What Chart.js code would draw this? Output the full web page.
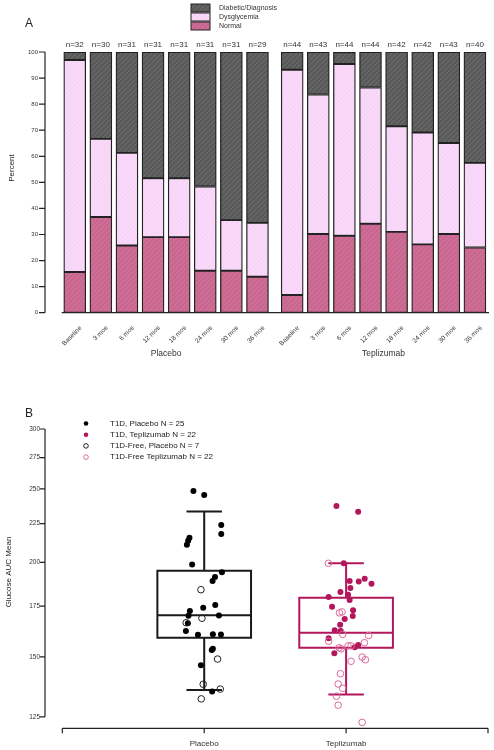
<!DOCTYPE html>
<html>
<head>
<meta charset="utf-8">
<script src="https://cdn.jsdelivr.net/npm/chart.js@4"></script>
<style>
  body { margin: 0; background: #fff; }
  canvas { display: block; }
</style>
</head>
<body>
<canvas id="chartA" width="494" height="370"></canvas>
<canvas id="chartB" width="494" height="380"></canvas>
<script>
// PANEL A DATA
const timeLabels = ["Baseline", "3 mos", "6 mos", "12 mos", "18 mos", "24 mos", "30 mos", "36 mos"];
const groupNames = ["Placebo", "Teplizumab"];
const barPos = [1, 2, 3, 4, 5, 6, 7, 8, 9.33, 10.33, 11.33, 12.33, 13.33, 14.33, 15.33, 16.33];
const nCounts = [32, 30, 31, 31, 31, 31, 31, 29, 44, 43, 44, 44, 42, 42, 43, 40];
const normalPct = [15.6, 36.7, 25.8, 29.0, 29.0, 16.1, 16.1, 13.8, 6.8, 30.2, 29.5, 34.1, 31.0, 26.2, 30.2, 25.0];
const dysPct = [81.3, 30.0, 35.5, 22.6, 22.6, 32.3, 19.4, 20.7, 86.4, 53.5, 65.9, 52.3, 40.5, 42.9, 34.9, 32.5];
const diabPct = [3.1, 33.3, 38.7, 48.4, 48.4, 51.6, 64.5, 65.5, 6.8, 16.3, 4.5, 13.6, 28.6, 31.0, 34.9, 42.5];
const pctTicks = [0, 10, 20, 30, 40, 50, 60, 70, 80, 90, 100];

// PANEL B DATA
const t1dPlacebo = [
  [0.924, 248.5], [1.0, 245.4], [1.12, 224], [1.12, 218], [0.896, 215.5], [0.887, 213.5], [0.878, 211],
  [0.915, 198.7], [1.125, 194], [1.076, 191.2], [1.059, 188.9], [1.078, 175.6], [0.993, 174.2],
  [0.899, 172.4], [0.889, 170], [1.104, 170.1], [0.885, 166.1], [0.871, 162.3], [0.956, 160.4],
  [1.061, 160.7], [1.118, 160.6], [1.061, 153.7], [1.053, 153.2], [0.977, 146.2], [1.056, 135]
];
const freePlacebo = [[0.977, 184], [0.984, 168.7], [0.873, 166.4], [1.094, 149], [0.993, 138], [1.113, 136], [0.979, 132]];
const t1dTepli = [
  [1.932, 237.4], [2.085, 233.3], [1.983, 199.4], [2.089, 188.7], [2.131, 190.3], [2.025, 188.9], [2.179, 187.4],
  [2.03, 184.9], [1.96, 182.7], [2.014, 181.2], [1.877, 179.9], [2.025, 178.3], [1.901, 174.7], [2.049, 172.9],
  [2.047, 169.8], [1.99, 168.3], [1.958, 165.4], [1.92, 162.6], [1.962, 162.3], [1.877, 158.7], [2.085, 155.5],
  [2.061, 154.5], [1.917, 151.6]
];
const freeTepli = [
  [1.875, 199.4], [1.953, 171.5], [1.972, 172], [1.976, 160.6], [2.159, 160.1], [1.877, 157.3], [1.951, 154.2],
  [1.965, 153.7], [2.014, 155.1], [2.035, 155.1], [2.129, 156.6], [2.113, 149.9], [2.136, 148.7], [2.035, 148],
  [1.96, 142.5], [1.944, 138.1], [1.976, 136.3], [1.932, 133.1], [1.944, 129.5], [2.113, 122.9]
];
const boxLow = [135.6, 133.8];
const boxQ1 = [159.0, 154.2];
const boxMed = [170.2, 161.4];
const boxQ3 = [194.9, 179.5];
const boxHigh = [233.5, 199.4];
const glucoseTicks = [125, 150, 175, 200, 225, 250, 275, 300];
const legendB = ["T1D, Placebo N = 25", "T1D, Teplizumab N = 22", "T1D-Free, Placebo N = 7", "T1D-Free Teplizumab N = 22"];

const FONT = '"Liberation Sans", Arial, sans-serif';
const INK = "#222";
const CRIMSON = "#b3175b";
const PINK_OPEN = "#d9699a";

function hatch(base, line) {
  const c = document.createElement("canvas");
  c.width = c.height = 5;
  const g = c.getContext("2d");
  g.fillStyle = base;
  g.fillRect(0, 0, 5, 5);
  g.strokeStyle = line;
  g.lineWidth = 0.6;
  g.beginPath();
  g.moveTo(0, 5); g.lineTo(5, 0);
  g.moveTo(-1, 1); g.lineTo(1, -1);
  g.moveTo(4, 6); g.lineTo(6, 4);
  g.stroke();
  return g.createPattern(c, "repeat");
}

const fillDiab = hatch("#5a5a5a", "rgba(150,150,150,0.6)");
const fillDys = hatch("#f9d8fa", "rgba(235,190,235,0.5)");
const fillNorm = hatch("#c96790", "rgba(230,150,180,0.55)");

function xy(arr) { return arr.map(p => ({ x: p[0], y: p[1] })); }

// PANEL A: axes, labels, legend
const panelA = {
  id: "panelA",
  afterDraw(chart) {
    const { ctx, chartArea, scales } = chart;
    const x = scales.x, y = scales.y;
    ctx.save();
    ctx.strokeStyle = INK;
    ctx.fillStyle = "#333";
    ctx.lineWidth = 1.2;
    // y axis
    ctx.beginPath();
    ctx.moveTo(chartArea.left, y.getPixelForValue(0));
    ctx.lineTo(chartArea.left, y.getPixelForValue(100));
    pctTicks.forEach(t => {
      ctx.moveTo(chartArea.left, y.getPixelForValue(t));
      ctx.lineTo(chartArea.left - 6, y.getPixelForValue(t));
    });
    ctx.stroke();
    ctx.font = "6px " + FONT;
    ctx.textAlign = "right";
    ctx.textBaseline = "middle";
    pctTicks.forEach(t => ctx.fillText(String(t), chartArea.left - 7, y.getPixelForValue(t)));
    // baseline
    ctx.lineWidth = 1.3;
    ctx.beginPath();
    ctx.moveTo(x.getPixelForValue(0.5), y.getPixelForValue(0));
    ctx.lineTo(chartArea.right, y.getPixelForValue(0));
    ctx.stroke();
    // n labels
    ctx.font = "8px " + FONT;
    ctx.textAlign = "center";
    barPos.forEach((v, i) => ctx.fillText("n=" + nCounts[i], x.getPixelForValue(v), 44.5));
    // rotated time labels
    ctx.font = "6.5px " + FONT;
    barPos.forEach((v, i) => {
      ctx.save();
      ctx.translate(x.getPixelForValue(v) + 6, 327);
      ctx.rotate(-Math.PI / 4);
      ctx.textAlign = "right";
      ctx.textBaseline = "middle";
      ctx.fillText(timeLabels[i % 8], 0, 0);
      ctx.restore();
    });
    // group labels
    ctx.font = "8.5px " + FONT;
    ctx.textAlign = "center";
    ctx.fillText(groupNames[0], x.getPixelForValue((barPos[0] + barPos[7]) / 2), 354);
    ctx.fillText(groupNames[1], x.getPixelForValue((barPos[8] + barPos[15]) / 2), 354);
    // legend
    const items = [["Diabetic/Diagnosis", fillDiab], ["Dysglycemia", fillDys], ["Normal", fillNorm]];
    ctx.font = "7px " + FONT;
    ctx.textAlign = "left";
    items.forEach((it, i) => {
      const top = 4 + i * 9;
      ctx.fillStyle = it[1];
      ctx.fillRect(191, top, 19, 8);
      ctx.strokeStyle = INK;
      ctx.lineWidth = 1;
      ctx.strokeRect(191, top, 19, 8);
      ctx.fillStyle = "#333";
      ctx.fillText(it[0], 219, top + 4);
    });
    // panel letter and axis title
    ctx.font = "12px " + FONT;
    ctx.fillStyle = "#222";
    ctx.fillText("A", 25, 24);
    ctx.save();
    ctx.translate(12, 168);
    ctx.rotate(-Math.PI / 2);
    ctx.textAlign = "center";
    ctx.font = "8px " + FONT;
    ctx.fillText("Percent", 0, 0);
    ctx.restore();
    ctx.restore();
  }
};

new Chart(document.getElementById("chartA"), {
  type: "bar",
  data: {
    datasets: [
      { label: "Normal", data: barPos.map((v, i) => ({ x: v, y: normalPct[i] })), backgroundColor: fillNorm },
      { label: "Dysglycemia", data: barPos.map((v, i) => ({ x: v, y: dysPct[i] })), backgroundColor: fillDys },
      { label: "Diabetic/Diagnosis", data: barPos.map((v, i) => ({ x: v, y: diabPct[i] })), backgroundColor: fillDiab }
    ]
  },
  options: {
    responsive: false,
    animation: false,
    devicePixelRatio: 1,
    layout: { padding: { left: 45, right: 5, top: 52, bottom: 57.3 } },
    datasets: { bar: { barThickness: 22, borderWidth: 1.3, borderColor: INK, borderSkipped: false } },
    scales: {
      x: { type: "linear", min: -0.14, max: 16.87, stacked: true, offset: false, display: false },
      y: { min: 0, max: 100, stacked: true, display: false }
    },
    plugins: { legend: { display: false }, tooltip: { enabled: false } }
  },
  plugins: [panelA]
});

// PANEL B: boxes, axes, legend
const panelB = {
  id: "panelB",
  beforeDatasetsDraw(chart) {
    const { ctx, scales } = chart;
    const x = scales.x, y = scales.y;
    ctx.save();
    ctx.lineWidth = 2;
    [1, 2].forEach((c, i) => {
      ctx.strokeStyle = i === 0 ? "#1a1a1a" : CRIMSON;
      const cx = x.getPixelForValue(c);
      const bl = x.getPixelForValue(c - 0.33), br = x.getPixelForValue(c + 0.33);
      const cl = x.getPixelForValue(c - 0.125), cr = x.getPixelForValue(c + 0.125);
      const yLow = y.getPixelForValue(boxLow[i]), yHigh = y.getPixelForValue(boxHigh[i]);
      const yQ1 = y.getPixelForValue(boxQ1[i]), yQ3 = y.getPixelForValue(boxQ3[i]);
      const yMed = y.getPixelForValue(boxMed[i]);
      ctx.beginPath();
      ctx.moveTo(cx, yHigh); ctx.lineTo(cx, yQ3);
      ctx.moveTo(cx, yQ1); ctx.lineTo(cx, yLow);
      ctx.moveTo(cl, yHigh); ctx.lineTo(cr, yHigh);
      ctx.moveTo(cl, yLow); ctx.lineTo(cr, yLow);
      ctx.moveTo(bl, yMed); ctx.lineTo(br, yMed);
      ctx.rect(bl, yQ3, br - bl, yQ1 - yQ3);
      ctx.stroke();
    });
    ctx.restore();
  },
  afterDraw(chart) {
    const { ctx, chartArea, scales } = chart;
    const x = scales.x, y = scales.y;
    ctx.save();
    ctx.strokeStyle = INK;
    ctx.fillStyle = "#333";
    ctx.lineWidth = 1.2;
    // y axis
    ctx.beginPath();
    ctx.moveTo(chartArea.left, y.getPixelForValue(glucoseTicks[0]));
    ctx.lineTo(chartArea.left, y.getPixelForValue(glucoseTicks[glucoseTicks.length - 1]));
    glucoseTicks.forEach(t => {
      ctx.moveTo(chartArea.left, y.getPixelForValue(t));
      ctx.lineTo(chartArea.left - 5, y.getPixelForValue(t));
    });
    // x axis
    const xb = chartArea.bottom;
    ctx.moveTo(x.getPixelForValue(0), xb);
    ctx.lineTo(x.getPixelForValue(3), xb);
    [0, 1, 2, 3].forEach(t => {
      ctx.moveTo(x.getPixelForValue(t), xb);
      ctx.lineTo(x.getPixelForValue(t), xb + 5);
    });
    ctx.stroke();
    ctx.font = "6.5px " + FONT;
    ctx.textAlign = "right";
    ctx.textBaseline = "middle";
    glucoseTicks.forEach(t => ctx.fillText(String(t), chartArea.left - 5, y.getPixelForValue(t)));
    ctx.font = "8px " + FONT;
    ctx.textAlign = "center";
    ctx.fillText(groupNames[0], x.getPixelForValue(1), 374);
    ctx.fillText(groupNames[1], x.getPixelForValue(2), 374);
    // legend
    const styles = [["#000", true], [CRIMSON, true], ["#222", false], [PINK_OPEN, false]];
    ctx.textAlign = "left";
    ctx.font = "8px " + FONT;
    legendB.forEach((txt, i) => {
      const ly = 53.5 + i * 11.2;
      ctx.beginPath();
      ctx.arc(86, ly, 2.3, 0, Math.PI * 2);
      if (styles[i][1]) { ctx.fillStyle = styles[i][0]; ctx.fill(); }
      else { ctx.strokeStyle = styles[i][0]; ctx.lineWidth = 1; ctx.stroke(); }
      ctx.fillStyle = "#222";
      ctx.fillText(txt, 110, ly);
    });
    // panel letter and axis title
    ctx.font = "12px " + FONT;
    ctx.fillText("B", 25, 44);
    ctx.save();
    ctx.translate(9, 202);
    ctx.rotate(-Math.PI / 2);
    ctx.textAlign = "center";
    ctx.font = "8px " + FONT;
    ctx.fillText("Glucose AUC Mean", 0, 0);
    ctx.restore();
    ctx.restore();
  }
};

new Chart(document.getElementById("chartB"), {
  type: "scatter",
  data: {
    datasets: [
      { label: legendB[2], data: xy(freePlacebo), pointRadius: 3.3, borderWidth: 1, borderColor: "#222", backgroundColor: "rgba(0,0,0,0)" },
      { label: legendB[3], data: xy(freeTepli), pointRadius: 3.3, borderWidth: 1, borderColor: PINK_OPEN, backgroundColor: "rgba(0,0,0,0)" },
      { label: legendB[0], data: xy(t1dPlacebo), pointRadius: 3, borderWidth: 0, backgroundColor: "#000" },
      { label: legendB[1], data: xy(t1dTepli), pointRadius: 3, borderWidth: 0, backgroundColor: CRIMSON }
    ]
  },
  options: {
    responsive: false,
    animation: false,
    devicePixelRatio: 1,
    clip: false,
    layout: { padding: { left: 45, right: 6, top: 59, bottom: 21.7 } },
    scales: {
      x: { type: "linear", min: -0.122, max: 3.0, display: false },
      y: { type: "logarithmic", min: 120.7, max: 300, display: false }
    },
    plugins: { legend: { display: false }, tooltip: { enabled: false } }
  },
  plugins: [panelB]
});
</script>
</body>
</html>
